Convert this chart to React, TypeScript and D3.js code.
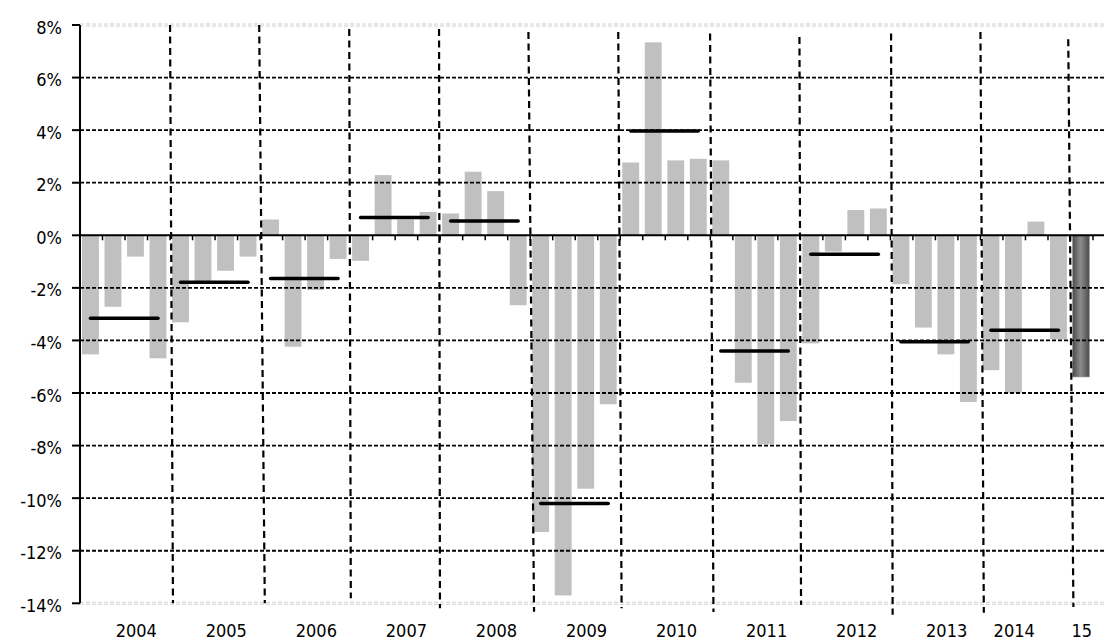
import React from "react";
import * as d3 from "d3";

const years: string[] = ["2004","2005","2006","2007","2008","2009","2010","2011","2012","2013","2014","2015"];
const quarters: string[] = ["Q1","Q2","Q3","Q4"];
const categories: string[] = years.flatMap((y) => (y === "2015" ? [y + "Q1"] : quarters.map((q) => y + q)));

const values: number[] = [
  -4.53, -2.72, -0.81, -4.68,
  -3.31, -1.75, -1.35, -0.81,
  0.60, -4.24, -2.08, -0.90,
  -0.97, 2.29, 0.60, 0.89,
  0.83, 2.42, 1.68, -2.66,
  -11.29, -13.70, -9.64, -6.43,
  2.77, 7.34, 2.85, 2.91,
  2.85, -5.61, -7.95, -7.07,
  -4.11, -0.62, 0.96, 1.02,
  -1.86, -3.51, -4.53, -6.34,
  -5.13, -5.99, 0.52, -3.96,
  -5.39,
];

const avgYears: string[] = ["2004","2005","2006","2007","2008","2009","2010","2011","2012","2013","2014"];
const avgValues: number[] = [-3.16, -1.79, -1.64, 0.68, 0.54, -10.2, 3.97, -4.4, -0.72, -4.05, -3.61];

const yTicks: number[] = [-14, -12, -10, -8, -6, -4, -2, 0, 2, 4, 6, 8];

const xLabels: string[] = ["2004","2005","2006","2007","2008","2009","2010","2011","2012","2013","2014","15"];
const xLabelAt: string[] = ["2004Q3","2005Q3","2006Q3","2007Q3","2008Q3","2009Q3","2010Q3","2011Q3","2012Q3","2013Q3","2014Q2","2015Q1"];

// hand-drawn year separators: [quarter-index top, value top, quarter-index bottom, value bottom]
const sepTopQ: number[] = [4.0, 7.96, 11.96, 15.95, 19.92, 23.91, 27.99, 31.96, 36.03, 40.0, 43.9];
const sepTopV: number[] = [8.0, 8.0, 7.85, 7.85, 7.73, 7.73, 7.68, 7.54, 7.68, 7.73, 7.46];
const sepBotQ: number[] = [4.13, 8.21, 12.03, 15.99, 20.17, 24.06, 28.14, 32.03, 36.1, 40.15, 44.13];
const sepBotV: number[] = [-14.0, -14.0, -13.81, -14.19, -14.32, -14.19, -14.33, -14.06, -14.44, -14.36, -14.14];

const W = 1104, H = 640;
const left = 80, right = 1093, plotRight = 1104;
const top = 25, bottom = 603.3;
const FONT = "'DejaVu Sans Condensed', 'DejaVu Sans', Verdana, sans-serif";

export default function App() {
  const x = d3.scaleBand<string>().domain(categories).range([left, right]).paddingInner(0.25).paddingOuter(0.125);
  const xq = d3.scaleLinear().domain([0, categories.length]).range([left, right]);
  const y = d3.scaleLinear().domain([-14, 8]).range([bottom, top]);
  const y0 = y(0);
  const lastIdx = categories.length - 1;

  return (
    <svg width={W} height={H} style={{ position: "absolute", left: 0, top: 0, background: "#fff" }}>
      <defs>
        <linearGradient id="darkBar" x1="0" x2="1" y1="0" y2="0">
          <stop offset="0" stopColor="#4a4a4a" />
          <stop offset="0.45" stopColor="#8a8a8a" />
          <stop offset="0.55" stopColor="#858585" />
          <stop offset="1" stopColor="#4a4a4a" />
        </linearGradient>
      </defs>

      {/* bars */}
      {values.map((v, i) => {
        const c = categories[i];
        const bx = x(c)! - 0.8;
        const y1 = y(Math.max(0, v));
        const y2 = y(Math.min(0, v));
        return (
          <rect key={c} x={bx} y={y1} width={x.bandwidth()} height={y2 - y1}
            fill={i === lastIdx ? "url(#darkBar)" : "#c0c0c0"}
            stroke={i === lastIdx ? "#9a9a9a" : "none"} strokeWidth={0.6} />
        );
      })}

      {/* horizontal gridlines */}
      {yTicks.filter((t) => t !== 0 && t !== 8 && t !== -14).map((t) => (
        <line key={"g" + t} x1={left} x2={plotRight} y1={y(t)} y2={y(t)}
          stroke="#000" strokeWidth={1.8} strokeDasharray="4,2" />
      ))}
      {[8, -14].map((t) => (
        <g key={"e" + t}>
          <line x1={left} x2={plotRight} y1={y(t) - 1} y2={y(t) - 1} stroke="#d0d0d0" strokeWidth={1} strokeDasharray="4,2" />
          <line x1={left} x2={plotRight} y1={y(t) + 1} y2={y(t) + 1} stroke="#d0d0d0" strokeWidth={1} strokeDasharray="4,2" />
        </g>
      ))}

      {/* year separators */}
      {sepTopQ.map((q, i) => (
        <line key={"s" + i} x1={xq(q)} y1={y(sepTopV[i])} x2={xq(sepBotQ[i])} y2={y(sepBotV[i])}
          stroke="#000" strokeWidth={2.2} strokeDasharray="7,4.5" />
      ))}

      {/* y axis */}
      <line x1={left} x2={left} y1={top} y2={bottom} stroke="#000" strokeWidth={2} />
      {yTicks.map((t) => (
        <g key={"t" + t}>
          <line x1={left - 8} x2={left} y1={y(t)} y2={y(t)} stroke="#000" strokeWidth={2} />
          <text x={62} y={y(t) + 8.5} textAnchor="end" fontFamily={FONT} fontSize={18} fill="#000">
            {t + "%"}
          </text>
        </g>
      ))}

      {/* zero axis */}
      <line x1={left} x2={plotRight} y1={y0} y2={y0} stroke="#000" strokeWidth={2} />
      {d3.range(1, categories.length + 1).map((i) => (
        <line key={"xt" + i} x1={xq(i)} x2={xq(i)} y1={y0} y2={y0 + 5} stroke="#000" strokeWidth={1.5} />
      ))}

      {/* annual averages */}
      {avgYears.map((yr, i) => {
        const a = x(yr + "Q1")! + x.bandwidth() / 2 - 0.8;
        const b = x(yr + "Q4")! + x.bandwidth() / 2 - 0.8;
        return (
          <line key={"a" + yr} x1={a} x2={b} y1={y(avgValues[i])} y2={y(avgValues[i])}
            stroke="#000" strokeWidth={3.5} strokeLinecap="round" />
        );
      })}

      {/* x labels */}
      {xLabels.map((l, i) => (
        <text key={"xl" + l} x={x(xLabelAt[i])! + x.bandwidth() / 2} y={636.5} textAnchor="middle"
          fontFamily={FONT} fontSize={18} fill="#000">
          {l}
        </text>
      ))}
    </svg>
  );
}
